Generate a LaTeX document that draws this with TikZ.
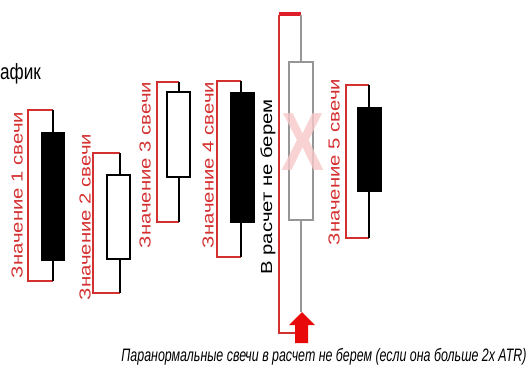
\documentclass[tikz,border=0pt]{standalone}
\usepackage{fontspec}
\setmainfont{Liberation Sans}
\usetikzlibrary{positioning}
\definecolor{lblred}{RGB}{212,48,48}
\definecolor{barred}{RGB}{220,30,40}
\definecolor{arrred}{RGB}{232,10,10}
\definecolor{xpink}{RGB}{248,200,200}
\definecolor{wickgray}{RGB}{150,150,150}

\begin{document}
\begin{tikzpicture}[x=0.75pt,y=-0.75pt,
  wick/.style={black,line width=0.8pt},
  bracket/.style={lblred,line width=0.8pt},
  bearbody/.style={draw=black,fill=black,line width=0.6pt},
  bullbody/.style={draw=black,fill=white,line width=0.8pt},
  vlabel/.style={text=lblred,font=\fontsize{12}{12}\selectfont,rotate=90,xscale=1.27,transform shape,inner sep=0pt}]
\useasboundingbox (0,0) rectangle (532,380);
% header
\node[anchor=west,inner sep=0pt,font=\fontsize{16.5}{17}\selectfont,xscale=0.78,transform shape] (head) at (0,74) {афик};
% candle 1
\draw[bracket] (53,110) -- (28,110) -- (28,281) -- (53,281);
\draw[wick] (53,110) -- (53,281);
\draw[bearbody] (41,132) rectangle (64,260);
\node[vlabel] (l1) at (17,195) {Значение 1 свечи};
% candle 2
\draw[bracket] (120,153) -- (93,153) -- (93,293) -- (120,293);
\draw[wick] (120,153) -- (120,293);
\draw[bullbody] (107,175) rectangle (130,259);
\node[vlabel] (l2) at (85,217) {Значение 2 свечи};
% candle 3
\draw[bracket] (179,82) -- (157,82) -- (157,222) -- (179,222);
\draw[wick] (179,82) -- (179,222);
\draw[bullbody] (167,92) rectangle (190,177);
\node[vlabel] (l3) at (145,165) {Значение 3 свечи};
% candle 4
\draw[bracket] (241,81) -- (217,81) -- (217,257) -- (241,257);
\draw[wick] (241,81) -- (241,257);
\draw[bearbody] (230,92) rectangle (254,222);
\node[vlabel] (l4) at (208,165) {Значение 4 свечи};
% paranormal candle
\draw[barred,line width=2.4pt] (279,14) -- (301,14);
\draw[bracket,line width=1pt] (279,15) -- (279,333) -- (296,333);
\draw[wickgray,line width=0.8pt] (301,15) -- (301,312);
\draw[draw=wickgray,fill=white,line width=0.8pt] (289,62) rectangle (313,220);
\node[text=xpink,opacity=0.8,font=\fontsize{62}{62}\selectfont\bfseries,xscale=0.78,inner sep=0pt] (cross) at (303,142) {X};
\node[text=black,font=\fontsize{12}{12}\selectfont,rotate=90,xscale=1.27,transform shape,inner sep=0pt] (skip) at (268,187) {В расчет не берем};
\fill[arrred] (302,312) -- (315,325) -- (308,325) -- (308,343) -- (295,343) -- (295,325) -- (289,325) -- cycle;
% candle 5
\draw[bracket] (369,85) -- (346,85) -- (346,238) -- (369,238);
\draw[wick] (369,85) -- (369,238);
\draw[bearbody] (357,107) rectangle (381,191);
\node[vlabel] (l5) at (334,162) {Значение 5 свечи};
% caption
\node[font=\fontsize{13.5}{14}\selectfont\itshape,xscale=0.69,transform shape,inner sep=0pt] (note) at (324,357) {Паранормальные свечи в расчет не берем (если она больше 2x ATR)};
\end{tikzpicture}
\end{document}
